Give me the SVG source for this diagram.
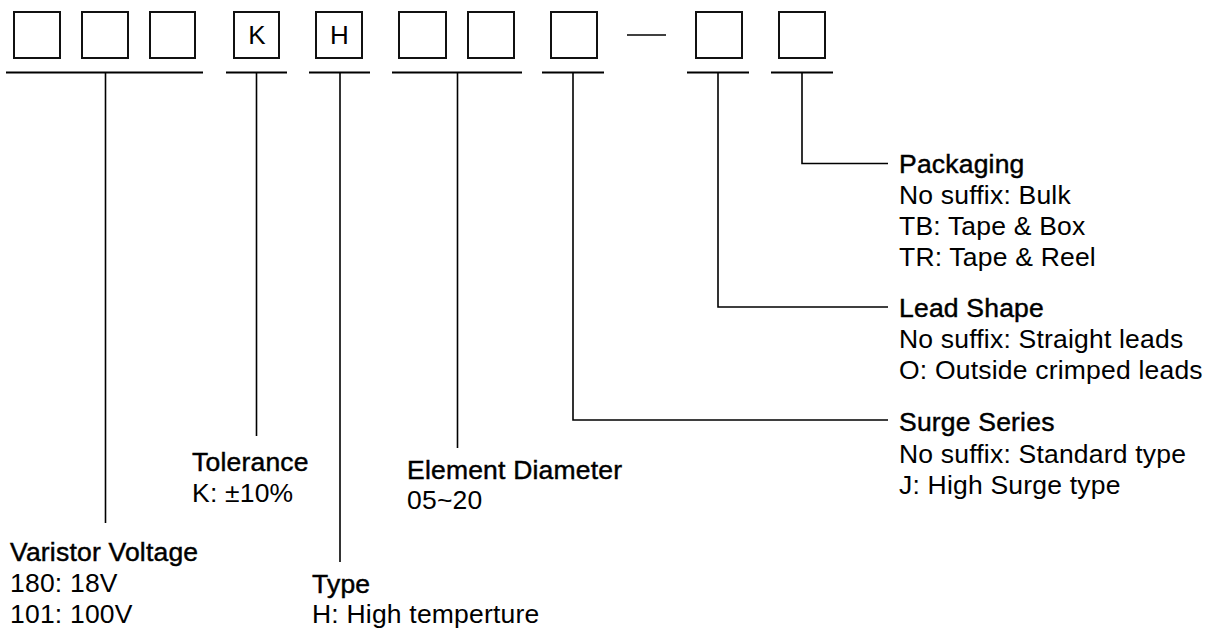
<svg xmlns="http://www.w3.org/2000/svg" width="1210" height="630" viewBox="0 0 1210 630">
<style>
  .box { fill: #fff; stroke: #111; stroke-width: 2; }
  .ul { stroke: #000; stroke-width: 2.2; fill: none; }
  .ln { stroke: #000; stroke-width: 1.6; fill: none; }
  text { font-family: "Liberation Sans", Arial, sans-serif; font-size: 26.5px; letter-spacing: 0.2px; fill: #000; }
  .h { stroke: #000; stroke-width: 0.45; }
  .ch { font-size: 26px; letter-spacing: 0; text-anchor: middle; }
</style>
<rect width="1210" height="630" fill="#fff"/>
<g id="code-boxes">
  <rect class="box" x="14" y="12" width="46" height="46"/>
  <rect class="box" x="82" y="12" width="46" height="46"/>
  <rect class="box" x="150" y="12" width="45" height="46"/>
  <g id="box-k"><rect class="box" x="234" y="12" width="45" height="46"/><text class="ch" x="257" y="44">K</text></g>
  <g id="box-h"><rect class="box" x="316" y="12" width="46" height="46"/><text class="ch" x="339.5" y="44">H</text></g>
  <rect class="box" x="399" y="12" width="47" height="46"/>
  <rect class="box" x="468" y="12" width="46" height="46"/>
  <rect class="box" x="551" y="12" width="46" height="46"/>
  <line class="ln" x1="627" y1="35" x2="666" y2="35" stroke-width="2"/>
  <rect class="box" x="696" y="12" width="46" height="46"/>
  <rect class="box" x="779" y="12" width="46" height="46"/>
</g>
<g id="connectors">
  <line class="ul" x1="6" y1="72.5" x2="203" y2="72.5"/>
  <line class="ul" x1="226" y1="72.5" x2="287" y2="72.5"/>
  <line class="ul" x1="309" y1="72.5" x2="370" y2="72.5"/>
  <line class="ul" x1="392" y1="72.5" x2="522" y2="72.5"/>
  <line class="ul" x1="542" y1="72.5" x2="604" y2="72.5"/>
  <line class="ul" x1="687" y1="72.5" x2="749" y2="72.5"/>
  <line class="ul" x1="771" y1="72.5" x2="833" y2="72.5"/>
  <line class="ln" x1="105.5" y1="72" x2="105.5" y2="523"/>
  <line class="ln" x1="256.5" y1="72" x2="256.5" y2="436"/>
  <line class="ln" x1="340" y1="72" x2="340" y2="562"/>
  <line class="ln" x1="457.5" y1="72" x2="457.5" y2="448"/>
  <polyline class="ln" points="573,72 573,420 888,420"/>
  <polyline class="ln" points="718,72 718,307 888,307"/>
  <polyline class="ln" points="802,72 802,163.5 888,163.5"/>
</g>
<g id="varistor-voltage">
  <text class="h" x="10" y="561">Varistor Voltage</text>
  <text x="10" y="592">180: 18V</text>
  <text x="10" y="623">101: 100V</text>
</g>
<g id="tolerance">
  <text class="h" x="192" y="471">Tolerance</text>
  <text x="192" y="502">K: ±10%</text>
</g>
<g id="type">
  <text class="h" x="312" y="593">Type</text>
  <text x="312" y="623">H: High temperture</text>
</g>
<g id="element-diameter">
  <text class="h" x="407" y="479">Element Diameter</text>
  <text x="407" y="509">05~20</text>
</g>
<g id="surge-series">
  <text class="h" x="899" y="431">Surge Series</text>
  <text x="899" y="463">No suffix: Standard type</text>
  <text x="899" y="494">J: High Surge type</text>
</g>
<g id="lead-shape">
  <text class="h" x="899" y="317">Lead Shape</text>
  <text x="899" y="348">No suffix: Straight leads</text>
  <text x="899" y="379">O: Outside crimped leads</text>
</g>
<g id="packaging">
  <text class="h" x="899" y="173">Packaging</text>
  <text x="899" y="204">No suffix: Bulk</text>
  <text x="899" y="235">TB: Tape &amp; Box</text>
  <text x="899" y="266">TR: Tape &amp; Reel</text>
</g>
</svg>
